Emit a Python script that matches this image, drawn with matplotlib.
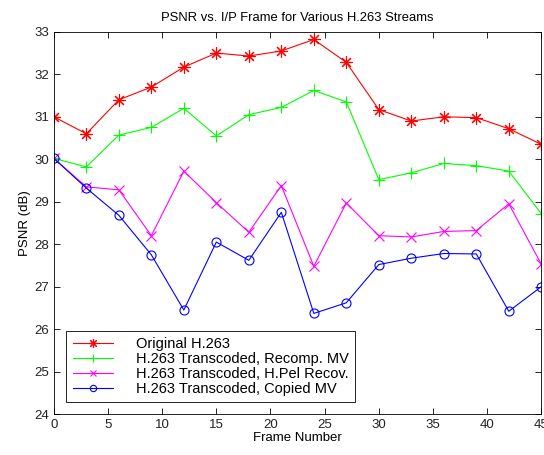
import numpy as np
import matplotlib.pyplot as plt

plt.rcParams['font.family'] = ['Liberation Sans', 'DejaVu Sans']

frames = [0, 3, 6, 9, 12, 15, 18, 21, 24, 27, 30, 33, 36, 39, 42, 45]

original = [31.0, 30.6, 31.4, 31.7, 32.17, 32.5, 32.43, 32.55, 32.82, 32.28,
            31.17, 30.9, 31.0, 30.98, 30.72, 30.35]
recomp_mv = [30.02, 29.82, 30.57, 30.75, 31.2, 30.55, 31.05, 31.22, 31.62, 31.35,
             29.52, 29.68, 29.9, 29.85, 29.72, 28.72]
hpel_recov = [30.02, 29.35, 29.28, 28.2, 29.72, 28.98, 28.28, 29.38, 27.48, 28.97,
              28.2, 28.17, 28.3, 28.32, 28.95, 27.53]
copied_mv = [30.02, 29.32, 28.68, 27.75, 26.45, 28.05, 27.62, 28.75, 26.37, 26.62,
             27.52, 27.67, 27.78, 27.77, 26.42, 27.0]

labels = ['Original H.263',
          'H.263 Transcoded, Recomp. MV',
          'H.263 Transcoded, H.Pel Recov.',
          'H.263 Transcoded, Copied MV']

fig = plt.figure(figsize=(5.44, 4.55), dpi=100)
ax = fig.add_axes([0.099, 0.09, 0.896, 0.84])

# asterisk marker like matlab '*'
star = (8, 2, 0)
ax.plot(frames, original, color='#ff0000', marker=star, ms=9, lw=0.8, mew=0.8, label=labels[0])
ax.plot(frames, recomp_mv, color='#00ff00', marker='+', ms=9, lw=0.8, mew=0.8, label=labels[1])
ax.plot(frames, hpel_recov, color='#ff00ff', marker='x', ms=6.5, lw=0.8, mew=0.8, label=labels[2])
ax.plot(frames, copied_mv, color='#0000ff', marker='o', ms=6.5, lw=0.8, mew=0.8,
        mfc='none', label=labels[3])

ax.set_xlim(0, 45)
ax.set_ylim(24, 33)
ax.set_xticks(np.arange(0, 46, 5))
ax.set_yticks(np.arange(24, 34, 1))
ax.tick_params(direction='in', top=True, right=True, labelsize=9.5, length=4, width=0.6,
               labelcolor='#222222')
for s in ax.spines.values():
    s.set_linewidth(0.6)

ax.set_title('PSNR vs. I/P Frame for Various H.263 Streams', fontsize=9.4, pad=8)
ax.set_xlabel('Frame Number', fontsize=9.5, labelpad=1)
ax.set_ylabel('PSNR (dB)', fontsize=9.5, labelpad=2)

leg = ax.legend(loc='lower left', bbox_to_anchor=(0.025, 0.031), fontsize=10.5,
                frameon=True, fancybox=False, edgecolor='black', framealpha=1,
                handlelength=2.75, handletextpad=1.6, labelspacing=0.05,
                borderpad=0.45, borderaxespad=0, markerscale=0.7)
leg.get_frame().set_linewidth(0.6)

fig.savefig('out.png', dpi=100)
